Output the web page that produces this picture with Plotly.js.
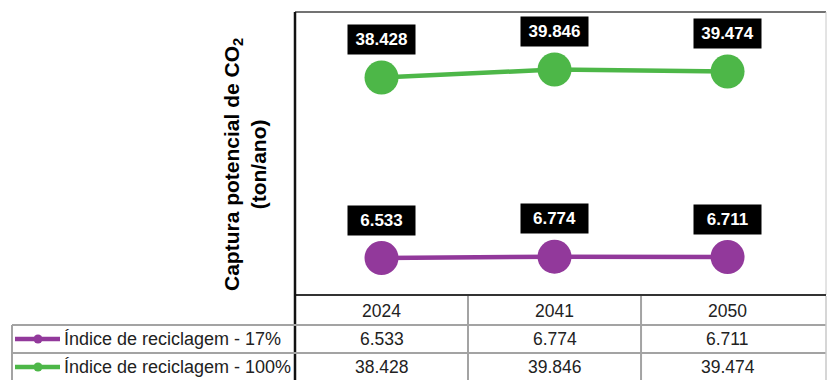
<!DOCTYPE html>
<html>
<head>
<meta charset="utf-8">
<script src="https://cdn.plot.ly/plotly-3.0.1.min.js"></script>
<style>html,body{margin:0;padding:0;background:#fff;}#chart{width:828px;height:380px;}</style>
</head>
<body>
<div id="chart"></div>
<script>
// ---- data ----
const years = ['2024', '2041', '2050'];
const seriesNames = ['Índice de reciclagem - 17%', 'Índice de reciclagem - 100%'];
const recicla17 = [6533, 6774, 6711];
const recicla100 = [38428, 39846, 39474];
const seriesColors = ['#92399B', '#4DB748'];

const W = 828, H = 380;
const L = 295, R = 826, T = 12, B = 295;
const px = p => (p - L) / (R - L);      // pixel x -> paper x
const py = p => (B - p) / (B - T);      // pixel y -> paper y
const fmt = v => v.toLocaleString('de-DE');   // 6533 -> "6.533"

const allSeries = [recicla17, recicla100];

const traces = allSeries.map((vals, i) => ({
  type: 'scatter', mode: 'lines+markers',
  x: years, y: vals, name: seriesNames[i],
  line: {color: seriesColors[i], width: 4.5},
  marker: {color: seriesColors[i], size: 34},
  showlegend: false, hoverinfo: 'skip'
}));

const annotations = [];
const shapes = [];

// data labels (black boxes); x given as category index
allSeries.forEach((vals, i) => {
  vals.forEach((v, j) => {
    annotations.push({
      x: j, y: v, xref: 'x', yref: 'y', showarrow: false,
      text: fmt(v), yshift: 38, width: 65, height: 27,
      bgcolor: '#000', font: {family: 'Liberation Sans, Arial, sans-serif', size: 17, color: '#fff', weight: 'bold'}
    });
  });
});

// y-axis title
annotations.push({
  xref: 'paper', yref: 'paper', x: px(245), y: py(165), showarrow: false,
  textangle: -90, xanchor: 'center', yanchor: 'middle',
  text: 'Captura potencial de CO<sub>2</sub><br>(ton/ano)',
  font: {family: 'Liberation Sans, Arial, sans-serif', size: 21, color: '#000', weight: 'bold'}
});

// frame of plot area
shapes.push({type: 'line', xref: 'paper', yref: 'paper', x0: 0, x1: 1, y0: 1, y1: 1, line: {color: '#444', width: 1.5}});
shapes.push({type: 'line', xref: 'paper', yref: 'paper', x0: 1, x1: 1, y0: 0, y1: 1, line: {color: '#c8c8c8', width: 1}});
shapes.push({type: 'line', xref: 'paper', yref: 'paper', x0: 0, x1: 1, y0: 0, y1: 0, line: {color: '#333', width: 2}});
shapes.push({type: 'line', xref: 'paper', yref: 'paper', x0: 0, x1: 0, y0: py(380), y1: 1, line: {color: '#111', width: 2.5}});

// table grid
const tableLine = {color: '#a3a3a3', width: 2};
const rowTops = [325, 353];
rowTops.forEach(r => {
  shapes.push({type: 'line', xref: 'paper', yref: 'paper', x0: px(12), x1: 1, y0: py(r), y1: py(r), line: tableLine});
});
shapes.push({type: 'line', xref: 'paper', yref: 'paper', x0: px(12), x1: px(12), y0: py(380), y1: py(325), line: tableLine});
shapes.push({type: 'line', xref: 'paper', yref: 'paper', x0: 1, x1: 1, y0: py(380), y1: py(296), line: {color: '#c8c8c8', width: 1.5}});
[0.5, 1.5].forEach(b => {
  shapes.push({type: 'line', xref: 'x', yref: 'paper', x0: b, x1: b, y0: py(380), y1: py(296), line: tableLine});
});

const cellFont = {family: 'Liberation Sans, Arial, sans-serif', size: 17.5, color: '#222'};
// header row (years)
years.forEach((yr, j) => {
  annotations.push({xref: 'x', yref: 'paper', x: j, y: py(311), text: yr, showarrow: false, font: cellFont, yanchor: 'middle'});
});
// value rows
const rowCenters = [339, 367];
allSeries.forEach((vals, i) => {
  vals.forEach((v, j) => {
    annotations.push({xref: 'x', yref: 'paper', x: j, y: py(rowCenters[i]), text: fmt(v), showarrow: false, font: cellFont, yanchor: 'middle'});
  });
  annotations.push({xref: 'paper', yref: 'paper', x: px(62), y: py(rowCenters[i]), text: seriesNames[i], showarrow: false,
    xanchor: 'left', yanchor: 'middle', font: {family: 'Liberation Sans, Arial, sans-serif', size: 18, color: '#222'}});
  // legend key
  shapes.push({type: 'line', xref: 'paper', yref: 'paper', x0: px(15), x1: px(60), y0: py(rowCenters[i]), y1: py(rowCenters[i]),
    line: {color: seriesColors[i], width: 4.5}});
  shapes.push({type: 'circle', xref: 'paper', yref: 'paper', x0: px(33.5), x1: px(42.5), y0: py(rowCenters[i] + 4.5), y1: py(rowCenters[i] - 4.5),
    fillcolor: seriesColors[i], line: {width: 0}});
});

const layout = {
  width: W, height: H,
  margin: {l: L, r: W - R, t: T, b: H - B, pad: 0},
  paper_bgcolor: '#fff', plot_bgcolor: '#fff',
  showlegend: false,
  xaxis: {type: 'category', categoryorder: 'array', categoryarray: years, range: [-0.5, 2.569],
    showticklabels: false, showgrid: false, zeroline: false, showline: false, ticks: ''},
  yaxis: {range: [0, 50000], showticklabels: false, showgrid: false, zeroline: false, showline: false, ticks: ''},
  annotations: annotations,
  shapes: shapes
};

Plotly.newPlot('chart', traces, layout, {displayModeBar: false, staticPlot: true});
</script>
</body>
</html>
